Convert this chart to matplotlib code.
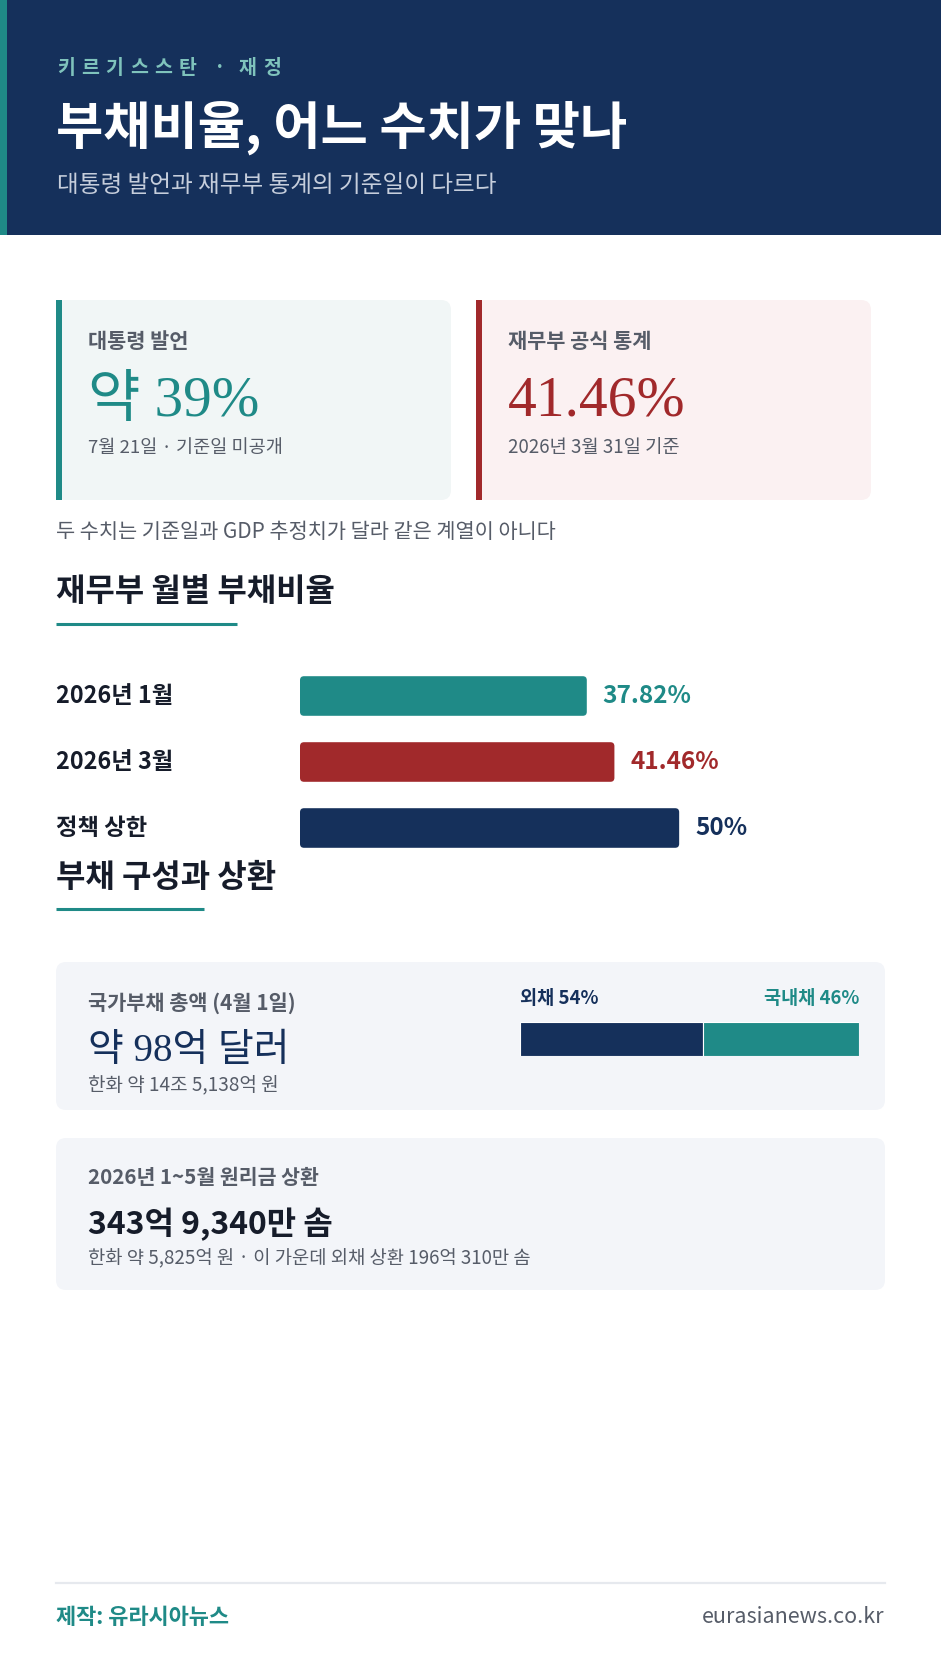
#!/usr/bin/python
# -*- coding: utf-8 -*-
# plot.py - debt ratio card

import matplotlib
matplotlib.use("Agg")
import matplotlib.pyplot as plt
from matplotlib.patches import FancyBboxPatch, Rectangle
from matplotlib.transforms import blended_transform_factory

plt.rcParams['font.family'] = ['Noto Sans CJK KR', 'DejaVu Sans']
SERIF = ['Liberation Serif', 'Noto Sans CJK KR']

# colours
NAVY = "#15305b"
TEAL = "#1f8a87"
RED = "#a1292b"
GREY = "#565c68"
DARK = "#161c2a"

# data
kicker = "키르기스스탄 · 재정"
title = "부채비율, 어느 수치가 맞나"
subtitle = "대통령 발언과 재무부 통계의 기준일이 다르다"

claim_label = "대통령 발언"
claim_value = "약 39%"
claim_note = "7월 21일 · 기준일 미공개"
official_label = "재무부 공식 통계"
official_value = "41.46%"
official_note = "2026년 3월 31일 기준"
series_note = "두 수치는 기준일과 GDP 추정치가 달라 같은 계열이 아니다"

section1 = "재무부 월별 부채비율"
ratio_labels = ["2026년 1월", "2026년 3월", "정책 상한"]
ratio_values = [37.82, 41.46, 50]
ratio_texts = ["37.82%", "41.46%", "50%"]
ratio_colors = [TEAL, RED, NAVY]

section2 = "부채 구성과 상환"
debt_label = "국가부채 총액 (4월 1일)"
debt_value = "약 98억 달러"
debt_note = "한화 약 14조 5,138억 원"
mix_labels = ["외채", "국내채"]
mix_shares = [54, 46]
mix_colors = [NAVY, TEAL]

repay_label = "2026년 1~5월 원리금 상환"
repay_value = "343억 9,340만 솜"
repay_note = "한화 약 5,825억 원 · 이 가운데 외채 상환 196억 310만 솜"

credit = "제작: 유라시아뉴스"
site = "eurasianews.co.kr"

W, H = 941, 1680
fig = plt.figure(figsize=(W / 100, H / 100), dpi=100)
fig.patch.set_facecolor('white')

bg = fig.add_axes([0, 0, 1, 1])
bg.set_xlim(0, W)
bg.set_ylim(H, 0)
bg.axis('off')


def txt(x, y, s, size, color, weight='normal', ha='left', family=None, va='center'):
    kw = {}
    if family is not None:
        kw['family'] = family
    bg.text(x, y, s, fontsize=size, color=color, fontweight=weight,
            ha=ha, va=va, **kw)


def card(x0, y0, x1, y1, face, stripe=None):
    bg.add_patch(FancyBboxPatch((x0, y0), x1 - x0, y1 - y0,
                                boxstyle="round,pad=0,rounding_size=10",
                                facecolor=face, edgecolor='none'))
    if stripe is not None:
        bg.add_patch(Rectangle((x0, y0), 6, y1 - y0, facecolor=stripe,
                               edgecolor='none'))


def round_bars(axis, bars, colors, px_x, px_y):
    # swap the square bars for rounded ones of the same size
    for b, c in zip(bars, colors):
        b.set_visible(False)
        axis.add_patch(FancyBboxPatch((b.get_x(), b.get_y()), b.get_width(), b.get_height(),
                                      boxstyle="round,pad=0,rounding_size=%f" % (4 * px_x),
                                      mutation_aspect=px_y / px_x,
                                      facecolor=c, edgecolor='none'))


# header
bg.add_patch(Rectangle((0, 0), W, 235, facecolor=NAVY, edgecolor='none'))
bg.add_patch(Rectangle((0, 0), 7, 235, facecolor=TEAL, edgecolor='none'))

# kicker with letter spacing
x = 57
for ch in kicker:
    txt(x, 68, ch, 14, "#7fc3bc", weight='bold')
    x += 11 if ch == " " else (14 if ch == "·" else 24.3)

txt(56, 128, title, 37, 'white', weight='bold')
txt(57, 185, subtitle, 17, "#c6cedc")

# top cards
card(56, 300, 451, 500, "#f1f6f6", stripe=TEAL)
card(476, 300, 871, 500, "#fbf1f2", stripe=RED)

txt(88, 342, claim_label, 15, GREY, weight='bold')
txt(88, 402, claim_value, 41, TEAL, family=SERIF)
txt(88, 448, claim_note, 13.4, GREY)

txt(508, 342, official_label, 15, GREY, weight='bold')
txt(508, 402, official_value, 41.5, RED, family=SERIF)
txt(508, 448, official_note, 13.5, GREY)

txt(56, 532, series_note, 15, GREY)

# section 1
txt(56, 592, section1, 23, DARK, weight='bold')
bg.plot([56, 237], [624, 624], color=TEAL, lw=2.2, solid_capstyle='butt')

ax = fig.add_axes([300 / W, 1 - 861 / H, 455 / W, 198 / H])
ax.set_xlim(0, 60)
ax.set_ylim(2.5, -0.5)
ax.axis('off')
bars = ax.barh(range(len(ratio_values)), ratio_values, height=0.6, color=ratio_colors)
round_bars(ax, bars, ratio_colors, 60 / 455, 3 / 198)
lab_tr = blended_transform_factory(fig.transFigure, ax.transData)
for i, (lab, v, t, c) in enumerate(zip(ratio_labels, ratio_values, ratio_texts, ratio_colors)):
    ax.text(56 / W, i, lab, transform=lab_tr, fontsize=16.8, color=DARK,
            fontweight='bold', ha='left', va='center')
    ax.annotate(t, (v, i), xytext=(11.5, 0), textcoords='offset points',
                fontsize=17.5, color=c, fontweight='bold', va='center')

# section 2
txt(56, 878, section2, 23, DARK, weight='bold')
bg.plot([56, 204], [909, 909], color=TEAL, lw=2.2, solid_capstyle='butt')

card(56, 962, 885, 1110, "#f3f5f9")
txt(88, 1003, debt_label, 15, GREY, weight='bold')
txt(88, 1052, debt_value, 28, NAVY, family=SERIF)
txt(88, 1085, debt_note, 13.7, GREY)

txt(520, 999, f"{mix_labels[0]} {mix_shares[0]}%", 13.4, NAVY, weight='bold')
txt(859, 999, f"{mix_labels[1]} {mix_shares[1]}%", 13.4, TEAL, weight='bold', ha='right')

mx = fig.add_axes([520 / W, 1 - 1056 / H, 339 / W, 34 / H])
mx.set_xlim(0, 100)
mx.set_ylim(-0.5, 0.5)
mx.axis('off')
left = 0
for share, c in zip(mix_shares, mix_colors):
    mx.barh([0], [share], left=left, height=1.0, color=c, edgecolor='white', lw=0.8)
    left += share

card(56, 1138, 885, 1290, "#f3f5f9")
txt(88, 1177, repay_label, 14.8, GREY, weight='bold')
txt(88, 1224, repay_value, 23, DARK, weight='bold')
txt(88, 1259, repay_note, 13.5, GREY)

# footer
bg.plot([56, 885], [1583, 1583], color="#e6e9ee", lw=1.6)
txt(56, 1617, credit, 15.8, TEAL, weight='bold')
txt(884, 1617, site, 15.5, GREY, ha='right')

fig.savefig("out.png", dpi=100, facecolor='white')
